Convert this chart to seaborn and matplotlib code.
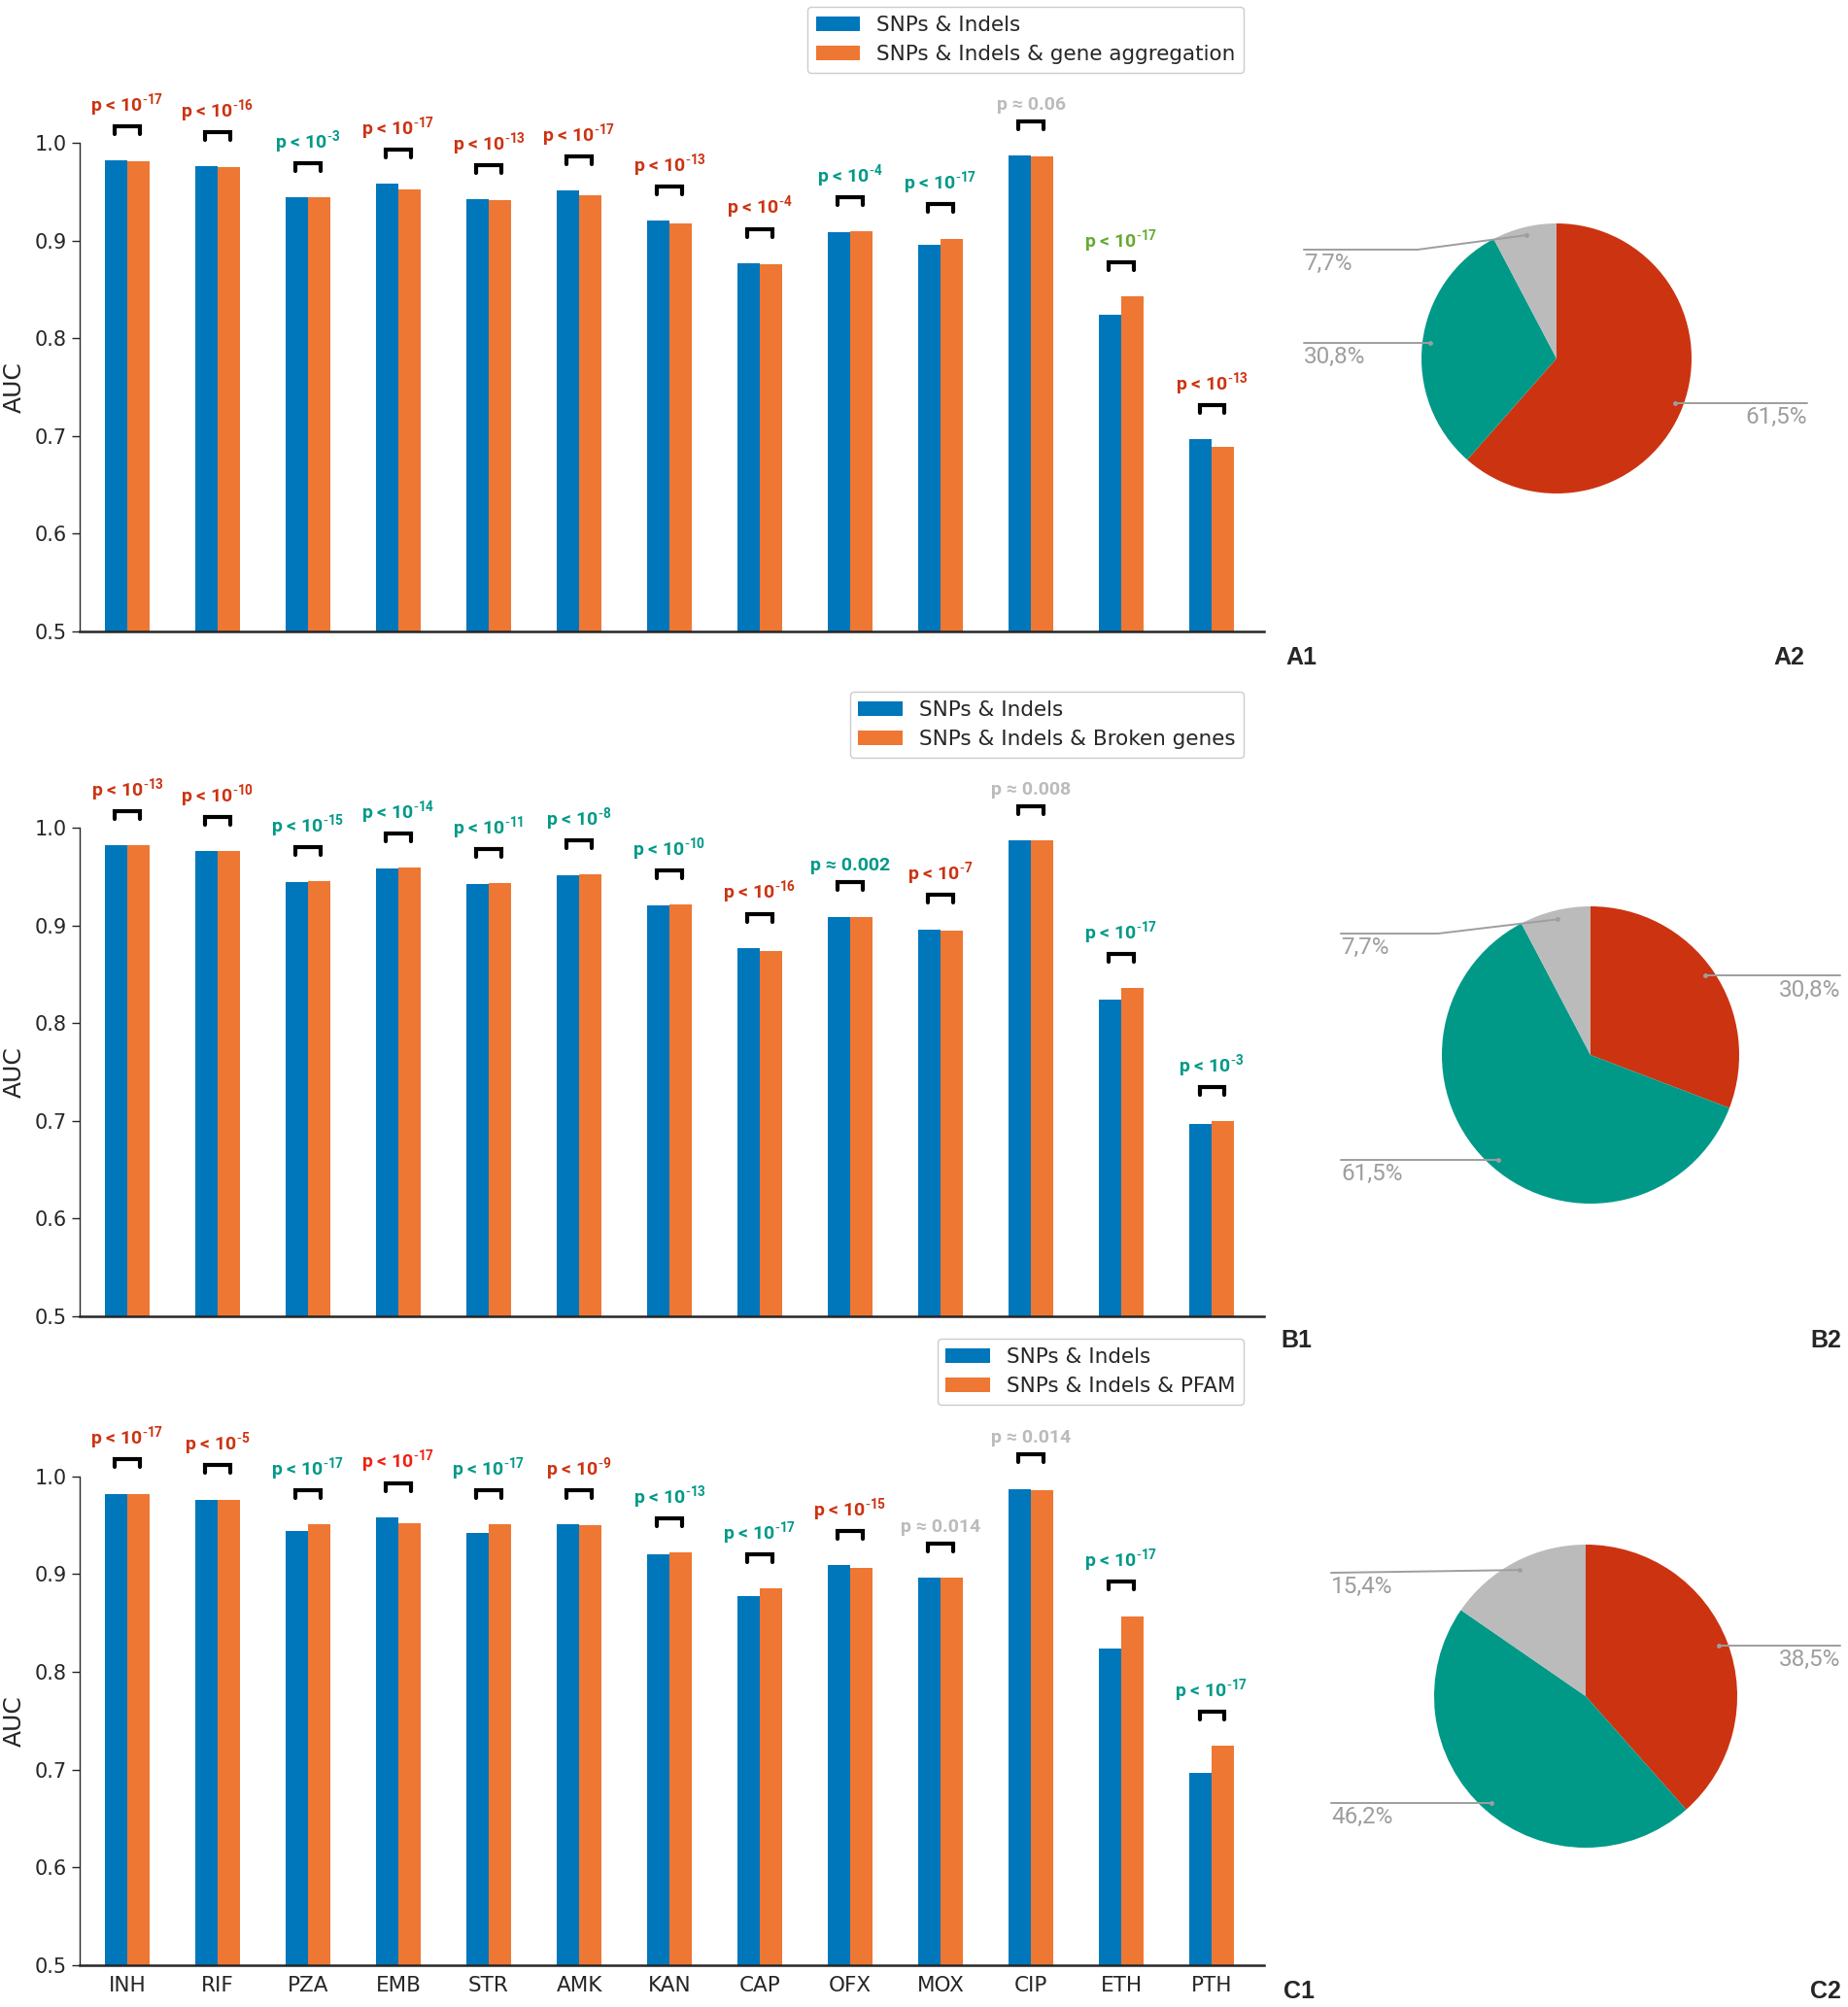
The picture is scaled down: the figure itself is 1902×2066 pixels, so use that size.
"""
AUC comparison of feature sets per drug + share of significant changes (pies)
"""

import numpy as np
import pandas as pd
import matplotlib
matplotlib.use('Agg')
import matplotlib.pyplot as plt
import seaborn as sns

# ─────────────────────────────────────────────
# DATA
# ─────────────────────────────────────────────

drugs = ['INH', 'RIF', 'PZA', 'EMB', 'STR', 'AMK', 'KAN',
         'CAP', 'OFX', 'MOX', 'CIP', 'ETH', 'PTH']

base_name = 'SNPs & Indels'
base_auc = [0.982, 0.976, 0.944, 0.958, 0.942, 0.951, 0.920,
            0.877, 0.909, 0.896, 0.987, 0.824, 0.697]

agg_name = 'SNPs & Indels & gene aggregation'
agg_auc = [0.981, 0.975, 0.944, 0.952, 0.941, 0.946, 0.9175,
           0.8755, 0.9095, 0.902, 0.986, 0.843, 0.689]
agg_p = ['p < 10$^{\\text{-}17}$', 'p < 10$^{\\text{-}16}$', 'p < 10$^{\\text{-}3}$',
         'p < 10$^{\\text{-}17}$', 'p < 10$^{\\text{-}13}$', 'p < 10$^{\\text{-}17}$',
         'p < 10$^{\\text{-}13}$', 'p < 10$^{\\text{-}4}$', 'p < 10$^{\\text{-}4}$',
         'p < 10$^{\\text{-}17}$', 'p ≈ 0.06', 'p < 10$^{\\text{-}17}$',
         'p < 10$^{\\text{-}13}$']
agg_pcol = ['red', 'red', 'teal', 'red', 'red', 'red', 'red',
            'red', 'teal', 'teal', 'grey', 'green', 'red']

broken_name = 'SNPs & Indels & Broken genes'
broken_auc = [0.982, 0.976, 0.945, 0.959, 0.943, 0.952, 0.921,
              0.874, 0.909, 0.895, 0.987, 0.836, 0.700]
broken_p = ['p < 10$^{\\text{-}13}$', 'p < 10$^{\\text{-}10}$', 'p < 10$^{\\text{-}15}$',
            'p < 10$^{\\text{-}14}$', 'p < 10$^{\\text{-}11}$', 'p < 10$^{\\text{-}8}$',
            'p < 10$^{\\text{-}10}$', 'p < 10$^{\\text{-}16}$', 'p ≈ 0.002',
            'p < 10$^{\\text{-}7}$', 'p ≈ 0.008', 'p < 10$^{\\text{-}17}$',
            'p < 10$^{\\text{-}3}$']
broken_pcol = ['red', 'red', 'teal', 'teal', 'teal', 'teal', 'teal',
               'red', 'teal', 'red', 'grey', 'teal', 'teal']

pfam_name = 'SNPs & Indels & PFAM'
pfam_auc = [0.982, 0.976, 0.951, 0.952, 0.951, 0.950, 0.922,
            0.885, 0.906, 0.896, 0.986, 0.857, 0.724]
pfam_p = ['p < 10$^{\\text{-}17}$', 'p < 10$^{\\text{-}5}$', 'p < 10$^{\\text{-}17}$',
          'p < 10$^{\\text{-}17}$', 'p < 10$^{\\text{-}17}$', 'p < 10$^{\\text{-}9}$',
          'p < 10$^{\\text{-}13}$', 'p < 10$^{\\text{-}17}$', 'p < 10$^{\\text{-}15}$',
          'p ≈ 0.014', 'p ≈ 0.014', 'p < 10$^{\\text{-}17}$',
          'p < 10$^{\\text{-}17}$']
pfam_pcol = ['red', 'red', 'teal', 'brightred', 'teal', 'red', 'teal',
             'teal', 'red', 'grey', 'grey', 'teal', 'teal']

# pie shares (%): worse / better / not significant
pie_agg = [61.5, 30.8, 7.7]
pie_broken = [30.8, 61.5, 7.7]
pie_pfam = [38.5, 46.2, 15.4]

# ─────────────────────────────────────────────
# STYLE
# ─────────────────────────────────────────────

BLUE, ORANGE = '#0077BB', '#EE7733'
PIE_COLORS = ['#CC3311', '#009988', '#BBBBBB']
P_COLORS = {'red': '#CC3311', 'brightred': '#EE2211', 'teal': '#009988',
            'grey': '#BBBBBB', 'green': '#66AA33'}
P_FONT = ['Liberation Sans Narrow', 'Roboto', 'DejaVu Sans']

sns.set_style('ticks')
plt.rcParams['font.family'] = ['DejaVu Sans']
plt.rcParams['mathtext.default'] = 'regular'

W, H = 1902, 2066
fig = plt.figure(figsize=(W / 100, H / 100), dpi=100)


def px_box(left, top, right, bottom):
    return [left / W, 1 - bottom / H, (right - left) / W, (bottom - top) / H]


def draw_bars(box, ext_auc, ext_name, pvals, pcols, legend_top, show_x):
    ax = fig.add_axes(box)
    df = pd.DataFrame({'drug': drugs * 2,
                       'AUC': base_auc + ext_auc,
                       'model': [base_name] * len(drugs) + [ext_name] * len(drugs)})
    sns.barplot(data=df, x='drug', y='AUC', hue='model', order=drugs,
                hue_order=[base_name, ext_name], palette=[BLUE, ORANGE],
                width=0.5, saturation=1, errorbar=None, linewidth=0, ax=ax)
    ax.set_ylim(0.5, 1.0)
    ax.set_xlim(-0.527, 12.58)
    ax.set_yticks(np.arange(0.5, 1.01, 0.1))
    ax.set_yticklabels([f'{t:.1f}' for t in np.arange(0.5, 1.01, 0.1)])
    ax.tick_params(axis='y', labelsize=15, length=6, width=1)
    ax.tick_params(axis='x', labelsize=15.5, length=0, pad=8)
    if not show_x:
        ax.set_xticklabels([])
    ax.set_xlabel('')
    ax.set_ylabel('AUC', fontsize=18)
    ax.yaxis.set_label_coords(-0.045, 0.5)
    sns.despine(ax=ax)
    ax.spines['bottom'].set_linewidth(1.8)
    ax.spines['left'].set_linewidth(1.0)

    # significance brackets
    for i, (b, e) in enumerate(zip(base_auc, ext_auc)):
        m = max(b, e)
        ax.plot([i - 0.135, i - 0.135, i + 0.135, i + 0.135],
                [m + 0.027, m + 0.035, m + 0.035, m + 0.027],
                color='black', lw=3, clip_on=False, solid_joinstyle='miter')
        ax.text(i, m + 0.043, pvals[i], ha='center', va='bottom',
                fontsize=14, fontweight='bold', family=P_FONT,
                color=P_COLORS[pcols[i]], clip_on=False)

    ax.legend(loc='upper right', bbox_to_anchor=(1280 / W, 1 - legend_top / H),
              bbox_transform=fig.transFigure, fontsize=15.5, borderaxespad=0,
              handlelength=2.1, handleheight=0.7, frameon=True,
              edgecolor='#CCCCCC', framealpha=1)
    return ax


def draw_pie(cx, cy, r, values, label_cfg):
    side = 560
    ax = fig.add_axes(px_box(cx - side / 2, cy - side / 2, cx + side / 2, cy + side / 2))
    wedges, _ = ax.pie(values, colors=PIE_COLORS, startangle=90,
                       counterclock=False, wedgeprops={'linewidth': 0})
    lim = side / 2 / r
    ax.set_xlim(-lim, lim)
    ax.set_ylim(-lim, lim)
    ax.set_aspect('equal')
    ax.axis('off')
    for w, v, cfg in zip(wedges, values, label_cfg):
        mid = np.deg2rad((w.theta1 + w.theta2) / 2)
        dx, dy = 0.94 * np.cos(mid), 0.94 * np.sin(mid)
        tx = cfg['tx']
        ly = cfg.get('ly', dy)
        xs, ys = [tx], [ly]
        if cfg.get('ex') is not None:
            xs.append(cfg['ex'])
            ys.append(ly)
        xs.append(dx)
        ys.append(dy)
        ax.plot(xs, ys, color='#9E9E9E', lw=1.4, clip_on=False)
        ax.plot([dx], [dy], 'o', color='#9E9E9E', ms=2.5, clip_on=False)
        ax.text(tx, ly - 0.02, f'{v:.1f}'.replace('.', ',') + '%',
                ha='left' if tx < 0 else 'right', va='top', fontsize=17.5,
                color='#9E9E9E', family=['Roboto', 'DejaVu Sans'], clip_on=False)
    return ax


# ─────────────────────────────────────────────
# PANELS
# ─────────────────────────────────────────────

draw_bars(px_box(82, 147, 1301, 650), agg_auc, agg_name, agg_p, agg_pcol, 7, False)
draw_bars(px_box(82, 852, 1301, 1355), broken_auc, broken_name, broken_p, broken_pcol, 712, False)
draw_bars(px_box(82, 1519.5, 1301, 2023), pfam_auc, pfam_name, pfam_p, pfam_pcol, 1378, True)

draw_pie(1602, 369, 139, pie_agg,
         [{'tx': 1.856}, {'tx': -1.871}, {'tx': -1.871, 'ly': 0.806, 'ex': -1.029}])
draw_pie(1637, 1086, 153, pie_broken,
         [{'tx': 1.68}, {'tx': -1.68}, {'tx': -1.68, 'ly': 0.817, 'ex': -1.026}])
draw_pie(1632, 1746, 156, pie_pfam,
         [{'tx': 1.68}, {'tx': -1.68}, {'tx': -1.68, 'ly': 0.814}])

panel_font = ['Liberation Sans', 'DejaVu Sans']
for txt, x, y, ha in [('A1', 1323, 677, 'left'), ('A2', 1857, 677, 'right'),
                      ('B1', 1318, 1380, 'left'), ('B2', 1895, 1380, 'right'),
                      ('C1', 1321, 2050, 'left'), ('C2', 1895, 2050, 'right')]:
    fig.text(x / W, 1 - y / H, txt, ha=ha, va='center', fontsize=18,
             fontweight='bold', family=panel_font)

fig.savefig('out.png', dpi=100, facecolor='white')
plt.close(fig)
